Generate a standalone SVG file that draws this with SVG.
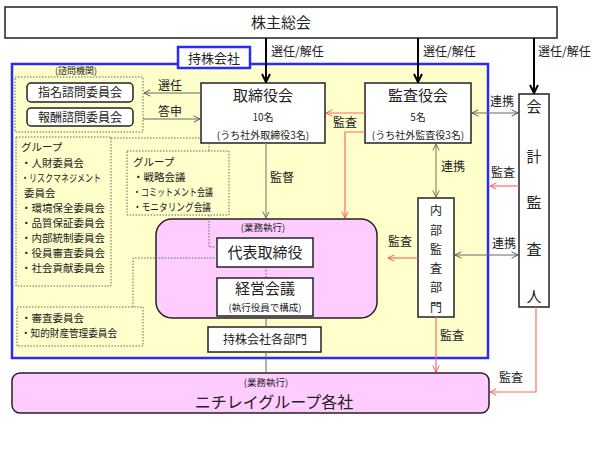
<svg xmlns="http://www.w3.org/2000/svg" width="605" height="454" viewBox="0 0 605 454">
<style>
text{font-family:"Noto Sans CJK JP","Liberation Sans",sans-serif;fill:#222;}
.box{fill:#fff;stroke:#222;stroke-width:1.5;}
.dot{fill:none;stroke:#666;stroke-width:1;stroke-dasharray:1.5 1.5;}
.blk{stroke:#000;stroke-width:2;fill:none;}
.gr{stroke:#666;stroke-width:1;fill:none;}
.ol{stroke:#8a8a70;stroke-width:1.2;fill:none;}
.red{stroke:#ff6b6b;stroke-width:1.2;fill:none;}
.m{text-anchor:middle;}
.s10{font-size:10.5px;}
.s12{font-size:12px;}
</style>
<defs>
<marker id="ab" viewBox="0 0 10 10" refX="9" refY="5" markerWidth="10" markerHeight="10" markerUnits="userSpaceOnUse" orient="auto-start-reverse"><path d="M1,1 L9,5 L1,9" fill="none" stroke="#000" stroke-width="2"/></marker>
<marker id="ag" viewBox="0 0 10 10" refX="9" refY="5" markerWidth="8" markerHeight="8" markerUnits="userSpaceOnUse" orient="auto-start-reverse"><path d="M1,1 L9,5 L1,9" fill="none" stroke="#555" stroke-width="1.2"/></marker>
<marker id="ao" viewBox="0 0 10 10" refX="9" refY="5" markerWidth="8" markerHeight="8" markerUnits="userSpaceOnUse" orient="auto-start-reverse"><path d="M1,1 L9,5 L1,9" fill="none" stroke="#6d6d55" stroke-width="1.2"/></marker>
<marker id="ar" viewBox="0 0 10 10" refX="9" refY="5" markerWidth="8" markerHeight="8" markerUnits="userSpaceOnUse" orient="auto-start-reverse"><path d="M1,1 L9,5 L1,9" fill="none" stroke="#ff5555" stroke-width="1.2"/></marker>
</defs>

<g id="holding-frame">
<rect x="12" y="64" width="476" height="294" fill="#ffffcc" stroke="#2a2aff" stroke-width="2.5"/>
</g>
<g id="holding-label">
<rect x="178" y="47" width="72" height="21" fill="#fff" stroke="#2a2aff" stroke-width="2.5"/>
<text x="214" y="62.5" class="m" font-size="13">持株会社</text>
</g>

<g id="shareholders">
<rect class="box" x="5" y="7" width="552" height="31"/>
<text x="281" y="28" class="m" font-size="15">株主総会</text>
</g>

<g id="advisory">
<text x="76" y="74" class="m" font-size="9">(諮問機関)</text>
<rect class="dot" x="15" y="77" width="128" height="55"/>
</g>
<g id="nomination">
<rect class="box" x="27" y="83" width="106" height="19" rx="4" stroke-width="1.2"/>
<text x="80" y="97" class="m s12">指名諮問委員会</text>
</g>
<g id="remuneration">
<rect class="box" x="27" y="108" width="106" height="18" rx="4" stroke-width="1.2"/>
<text x="80" y="121.5" class="m s12">報酬諮問委員会</text>
</g>

<g id="board">
<rect class="box" x="201" y="83" width="124" height="60"/>
<text x="263" y="101" class="m" font-size="15">取締役会</text>
<text x="263" y="121" class="m" font-size="10">10名</text>
<text x="263" y="139" class="m" font-size="10">(うち社外取締役3名)</text>
</g>

<g id="auditors">
<rect class="box" x="365" y="83" width="106" height="60"/>
<text x="418" y="101" class="m" font-size="15">監査役会</text>
<text x="418" y="121" class="m" font-size="10">5名</text>
<text x="418" y="139" class="m" font-size="10">(うち社外監査役3名)</text>
</g>

<g id="group1">
<rect class="dot" x="16" y="137" width="95" height="149"/>
<text class="s10" x="21" y="151">グループ</text>
<text class="s10" x="21" y="167">・人財委員会</text>
<text class="s10" x="21" y="182" textLength="80" lengthAdjust="spacingAndGlyphs">・リスクマネジメント</text>
<text class="s10" x="24" y="197">委員会</text>
<text class="s10" x="21" y="212">・環境保全委員会</text>
<text class="s10" x="21" y="227">・品質保証委員会</text>
<text class="s10" x="21" y="242">・内部統制委員会</text>
<text class="s10" x="21" y="257">・役員審査委員会</text>
<text class="s10" x="21" y="272">・社会貢献委員会</text>
</g>

<g id="group2">
<rect class="dot" x="127" y="151" width="102" height="64"/>
<text class="s10" x="133" y="166">グループ</text>
<text class="s10" x="133" y="181">・戦略会議</text>
<text class="s10" x="133" y="196" textLength="80" lengthAdjust="spacingAndGlyphs">・コミットメント会議</text>
<text class="s10" x="133" y="211" textLength="78" lengthAdjust="spacingAndGlyphs">・モニタリング会議</text>
</g>

<g id="group3">
<rect class="dot" x="17" y="307" width="126" height="39"/>
<text class="s10" x="21" y="322">・審査委員会</text>
<text class="s10" x="21" y="337" textLength="96" lengthAdjust="spacingAndGlyphs">・知的財産管理委員会</text>
</g>

<g id="execution">
<rect x="156" y="219" width="221" height="99" rx="16" fill="#ffccff" stroke="#222" stroke-width="1.5"/>
<text x="263" y="231" class="m" font-size="9.5">(業務執行)</text>
</g>
<g id="ceo">
<rect class="box" x="217" y="238" width="96" height="29"/>
<text x="265" y="258" class="m" font-size="15">代表取締役</text>
</g>
<g id="mgmt">
<rect class="box" x="217" y="278" width="96" height="38"/>
<text x="265" y="294" class="m" font-size="15">経営会議</text>
<text x="265" y="311" class="m" font-size="9.5">(執行役員で構成)</text>
</g>
<g id="depts">
<rect class="box" x="208" y="327" width="113" height="25"/>
<text x="265" y="344" class="m s12">持株会社各部門</text>
</g>

<g id="internal-audit">
<rect class="box" x="418" y="198" width="36" height="119"/>
<text x="436" y="215" class="m s12">内</text>
<text x="436" y="235" class="m s12">部</text>
<text x="436" y="254" class="m s12">監</text>
<text x="436" y="273" class="m s12">査</text>
<text x="436" y="292" class="m s12">部</text>
<text x="436" y="312" class="m s12">門</text>
</g>

<g id="accounting-auditor">
<rect class="box" x="519" y="94" width="30" height="213"/>
<text x="534" y="112" class="m" font-size="15">会</text>
<text x="534" y="162" class="m" font-size="15">計</text>
<text x="534" y="208" class="m" font-size="15">監</text>
<text x="534" y="255" class="m" font-size="15">査</text>
<text x="534" y="302" class="m" font-size="15">人</text>
</g>

<g id="group-companies">
<rect x="12" y="373" width="477" height="40" rx="8" fill="#ffccff" stroke="#222" stroke-width="1.5"/>
<text x="266" y="386" class="m" font-size="9.5">(業務執行)</text>
<text x="274" y="408" class="m" font-size="16">ニチレイグループ各社</text>
</g>

<g id="connectors">
<line class="blk" x1="266" y1="38" x2="266" y2="82" marker-end="url(#ab)"/>
<line class="blk" x1="418" y1="38" x2="418" y2="82" marker-end="url(#ab)"/>
<line class="blk" x1="534" y1="38" x2="534" y2="93" marker-end="url(#ab)"/>
<text x="271" y="56" class="s12">選任/解任</text>
<text x="423" y="56" class="s12">選任/解任</text>
<text x="538" y="56" class="s12">選任/解任</text>

<line class="gr" x1="201" y1="93" x2="144" y2="93" marker-end="url(#ag)"/>
<text x="158" y="90" class="s12">選任</text>
<line class="gr" x1="143" y1="119" x2="200" y2="119" marker-end="url(#ag)"/>
<text x="158" y="116" class="s12">答申</text>

<line class="ol" x1="266" y1="143" x2="266" y2="218" marker-end="url(#ao)"/>
<text x="270" y="182" class="s12">監督</text>

<line class="red" x1="365" y1="113" x2="326" y2="113" marker-end="url(#ar)"/>
<polyline class="red" points="365,132 345,132 345,218" marker-end="url(#ar)"/>
<text x="333" y="127" class="s12">監査</text>

<line class="gr" x1="472" y1="113" x2="518" y2="113" marker-start="url(#ag)" marker-end="url(#ag)"/>
<text x="490" y="106" class="s12">連携</text>

<line class="ol" x1="436" y1="144" x2="436" y2="197" marker-start="url(#ao)" marker-end="url(#ao)"/>
<text x="441" y="171" class="s12">連携</text>

<line class="red" x1="519" y1="186" x2="490" y2="186" marker-end="url(#ar)"/>
<text x="491" y="177" class="s12">監査</text>

<line class="gr" x1="455" y1="255" x2="518" y2="255" marker-start="url(#ag)" marker-end="url(#ag)"/>
<text x="492" y="248" class="s12">連携</text>

<line class="red" x1="418" y1="258" x2="388" y2="258" marker-end="url(#ar)"/>
<text x="388" y="246" class="s12">監査</text>

<line class="red" x1="436" y1="317" x2="436" y2="372" marker-end="url(#ar)"/>
<text x="440" y="340" class="s12">監査</text>

<polyline class="red" points="536,307 536,392 490,392" marker-end="url(#ar)"/>
<text x="499" y="382" class="s12">監査</text>

<line class="gr" x1="266" y1="318" x2="266" y2="327"/>
<line class="gr" x1="266" y1="352" x2="266" y2="373"/>

<line class="dot" x1="111" y1="138" x2="201" y2="138"/>
<line class="dot" x1="209" y1="143" x2="209" y2="151"/>
<polyline class="dot" points="209,215 209,247 217,247"/>
<polyline class="dot" points="133,307 133,258 217,258"/>
<line class="dot" x1="266" y1="267" x2="266" y2="278"/>
</g>
</svg>
